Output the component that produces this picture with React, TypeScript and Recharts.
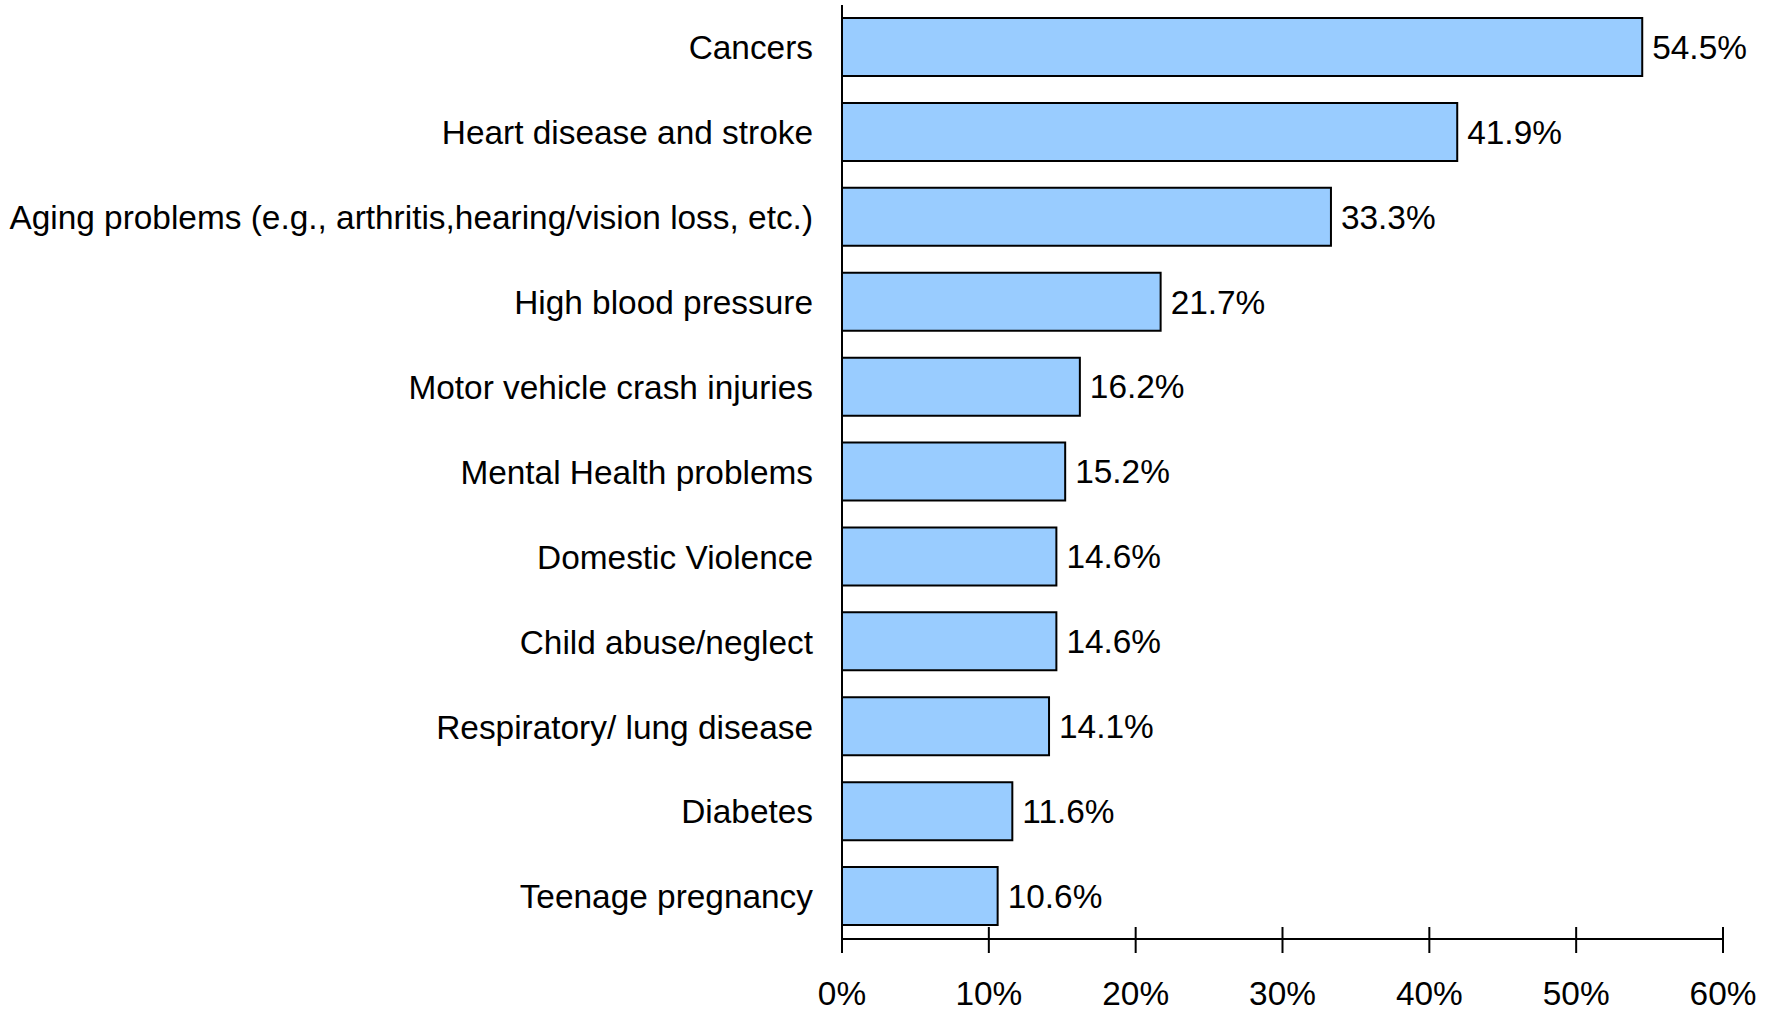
import { BarChart, Bar, XAxis, YAxis, LabelList } from 'recharts';

const categories = [
  'Cancers',
  'Heart disease and stroke',
  'Aging problems (e.g., arthritis,hearing/vision loss, etc.)',
  'High blood pressure',
  'Motor vehicle crash injuries',
  'Mental Health problems',
  'Domestic Violence',
  'Child abuse/neglect',
  'Respiratory/ lung disease',
  'Diabetes',
  'Teenage pregnancy',
];

const percents = [54.5, 41.9, 33.3, 21.7, 16.2, 15.2, 14.6, 14.6, 14.1, 11.6, 10.6];

const xTicks = [0, 10, 20, 30, 40, 50, 60];

const FONT = '"Liberation Sans", Arial, sans-serif';
const FS = 33.4;

const data = categories.map((name, i) => ({ name, value: percents[i] }));

// x axis ticks cross the axis line, so draw them by hand
function XTick({ x, y, payload }: any) {
  return (
    <g>
      <line x1={x} x2={x} y1={y - 12} y2={y + 14} stroke="#000" strokeWidth={2} />
      <text
        x={x}
        y={y + 54}
        textAnchor="middle"
        dominantBaseline="central"
        fontFamily={FONT}
        fontSize={FS}
        fill="#000"
      >
        {payload.value}%
      </text>
    </g>
  );
}

export default function App() {
  return (
    <div style={{ position: 'absolute', left: 0, top: 0, background: '#fff' }}>
      <BarChart
        width={1770}
        height={1011}
        data={data}
        layout="vertical"
        margin={{ top: 5, right: 47, left: 0, bottom: 0 }}
      >
        <XAxis
          type="number"
          domain={[0, 60]}
          ticks={xTicks}
          interval={0}
          axisLine={{ stroke: '#000', strokeWidth: 2 }}
          tickLine={false}
          tickSize={0}
          tickMargin={0}
          height={72}
          tick={(props: any) => <XTick {...props} />}
        />
        <YAxis
          type="category"
          dataKey="name"
          width={842}
          interval={0}
          axisLine={{ stroke: '#000', strokeWidth: 2 }}
          tickLine={false}
          tickSize={0}
          tickMargin={29}
          tick={{ fill: '#000', fontSize: FS, fontFamily: FONT }}
        />
        <Bar
          dataKey="value"
          fill="#99CCFF"
          stroke="#000"
          strokeWidth={2}
          barSize={58}
          isAnimationActive={false}
        >
          <LabelList
            dataKey="value"
            position="right"
            offset={10}
            formatter={(v: any) => `${v}%`}
            style={{ fill: '#000', fontSize: FS, fontFamily: FONT }}
          />
        </Bar>
      </BarChart>
    </div>
  );
}
